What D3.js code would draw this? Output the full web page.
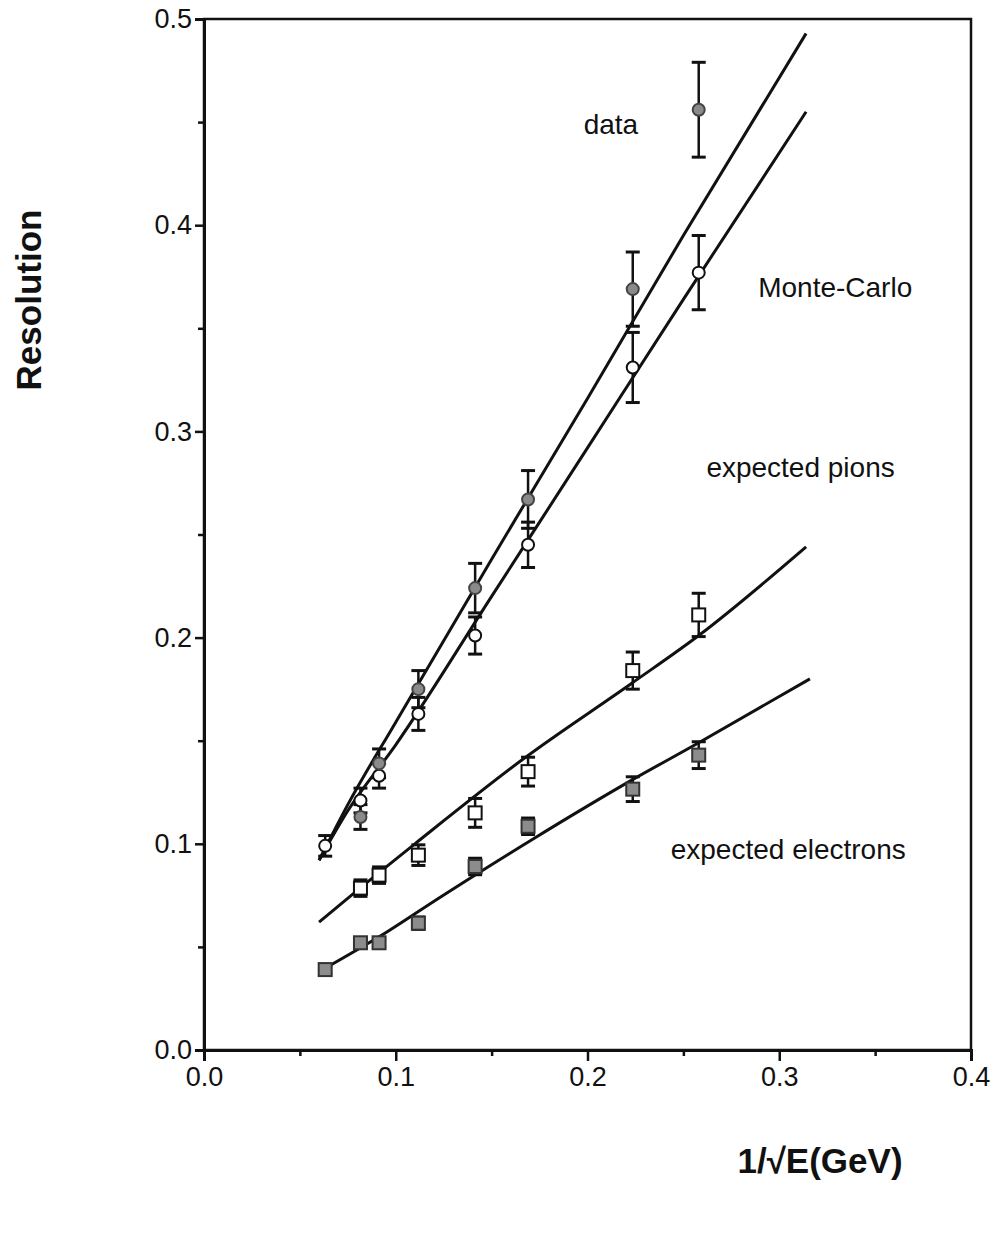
<!DOCTYPE html>
<html>
<head>
<meta charset="utf-8">
<script src="https://cdn.jsdelivr.net/npm/d3@7"></script>
<style>
  body { margin: 0; background: #fff; }
  text { font-family: "Liberation Sans", Arial, Helvetica, sans-serif; fill: #111; }
</style>
</head>
<body>
<svg id="chart" width="1005" height="1237"></svg>
<script>
// x = 1/sqrt(E) for E = 250, 150, 120, 80, 50, 35, 20, 15 GeV
var invSqrtE = [0.0632, 0.0816, 0.0913, 0.1118, 0.1414, 0.169, 0.2236, 0.258];

// measured data (grey circles), first energy has no point
var dataX = invSqrtE.slice(1);
var dataY = [0.113, 0.139, 0.175, 0.224, 0.267, 0.369, 0.456];
var dataErr = [0.006, 0.007, 0.009, 0.012, 0.014, 0.018, 0.023];

// Monte-Carlo (open circles)
var mcX = invSqrtE;
var mcY = [0.099, 0.121, 0.133, 0.163, 0.201, 0.245, 0.331, 0.377];
var mcErr = [0.005, 0.006, 0.006, 0.008, 0.009, 0.011, 0.017, 0.018];

// expected pions (open squares)
var pionX = invSqrtE.slice(1);
var pionY = [0.0785, 0.0848, 0.0945, 0.115, 0.135, 0.184, 0.211];
var pionErr = [0.004, 0.004, 0.005, 0.007, 0.007, 0.009, 0.0105];

// expected electrons (grey squares)
var elecX = invSqrtE;
var elecY = [0.039, 0.052, 0.052, 0.0615, 0.089, 0.1085, 0.1265, 0.143];
var elecErr = [0.002, 0.002, 0.002, 0.003, 0.004, 0.004, 0.006, 0.0065];

// fitted curves
var fitDataX = [0.060, 0.075, 0.100, 0.150, 0.200, 0.250, 0.314];
var fitDataY = [0.092, 0.119, 0.159, 0.238, 0.316, 0.395, 0.493];
var fitMcX = [0.060, 0.075, 0.100, 0.150, 0.200, 0.250, 0.314];
var fitMcY = [0.092, 0.116, 0.148, 0.220, 0.292, 0.364, 0.455];
var fitPionX = [0.060, 0.082, 0.110, 0.167, 0.2233, 0.258, 0.314];
var fitPionY = [0.062, 0.079, 0.100, 0.1415, 0.178, 0.201, 0.244];
var fitElecX = [0.062, 0.0915, 0.123, 0.171, 0.2233, 0.258, 0.316];
var fitElecY = [0.039, 0.055, 0.074, 0.102, 0.131, 0.149, 0.180];

var xTicks = [0.0, 0.1, 0.2, 0.3, 0.4];
var yTicks = [0.0, 0.1, 0.2, 0.3, 0.4, 0.5];

var labels = [
  { text: "data", x: 0.198, y: 0.448 },
  { text: "Monte-Carlo", x: 0.289, y: 0.369 },
  { text: "expected pions", x: 0.262, y: 0.2815 },
  { text: "expected electrons", x: 0.2434, y: 0.0964 }
];

var svg = d3.select("#chart");
var mLeft = 204, mRight = 971, mTop = 19, mBottom = 1050;

var x = d3.scaleLinear().domain([0, 0.4]).range([mLeft, mRight]);
var y = d3.scaleLinear().domain([0, 0.5]).range([mBottom, mTop]);

function zip(xs, ys, es) {
  return xs.map(function(v, i) { return { x: v, y: ys[i], e: es ? es[i] : 0 }; });
}

// frame
svg.append("rect")
  .attr("x", mLeft).attr("y", mTop)
  .attr("width", mRight - mLeft).attr("height", mBottom - mTop)
  .attr("fill", "none").attr("stroke", "#111").attr("stroke-width", 2.5);

// axes
var xAxis = d3.axisBottom(x).tickValues(xTicks).tickFormat(d3.format(".1f")).tickSize(11).tickPadding(6);
var xMinor = d3.axisBottom(x).tickValues([0.05, 0.15, 0.25, 0.35]).tickFormat("").tickSize(6);
var yAxis = d3.axisLeft(y).tickValues(yTicks).tickFormat(d3.format(".1f")).tickSize(9).tickPadding(3);
var yMinor = d3.axisLeft(y).tickValues([0.05, 0.15, 0.25, 0.35, 0.45]).tickFormat("").tickSize(6);

[[xAxis, "bottom"], [xMinor, "bottom"], [yAxis, "left"], [yMinor, "left"]].forEach(function(a) {
  var g = svg.append("g")
    .attr("transform", a[1] === "bottom" ? "translate(0," + mBottom + ")" : "translate(" + mLeft + ",0)")
    .call(a[0]);
  g.select(".domain").attr("stroke", "#111").attr("stroke-width", 3);
  g.selectAll(".tick line").attr("stroke", "#111").attr("stroke-width", 2.5);
  g.selectAll(".tick text").attr("font-size", 27).attr("fill", "#111")
    .style("font-family", "'Liberation Sans', Arial, sans-serif");
});

// axis titles
svg.append("text")
  .attr("x", 820).attr("y", 1173)
  .attr("text-anchor", "middle")
  .attr("font-size", 35).attr("font-weight", "bold")
  .text("1/\u221AE(GeV)");

svg.append("text")
  .attr("transform", "translate(41,300) rotate(-90)")
  .attr("text-anchor", "middle")
  .attr("font-size", 35).attr("font-weight", "bold")
  .text("Resolution");

// fitted lines
var line = d3.line()
  .x(function(d) { return x(d.x); })
  .y(function(d) { return y(d.y); })
  .curve(d3.curveMonotoneX);

[[fitDataX, fitDataY], [fitMcX, fitMcY], [fitPionX, fitPionY], [fitElecX, fitElecY]].forEach(function(f) {
  svg.append("path")
    .datum(zip(f[0], f[1]))
    .attr("d", line)
    .attr("fill", "none")
    .attr("stroke", "#111")
    .attr("stroke-width", 3);
});

// error bars
function errorBars(pts) {
  var g = svg.append("g").attr("stroke", "#111");
  g.selectAll(".bar").data(pts).enter().append("line")
    .attr("x1", function(d) { return x(d.x); })
    .attr("x2", function(d) { return x(d.x); })
    .attr("y1", function(d) { return y(d.y + d.e); })
    .attr("y2", function(d) { return y(d.y - d.e); })
    .attr("stroke-width", 2.5);
  [1, -1].forEach(function(s) {
    g.selectAll(".cap" + s).data(pts).enter().append("line")
      .attr("x1", function(d) { return x(d.x) - 7; })
      .attr("x2", function(d) { return x(d.x) + 7; })
      .attr("y1", function(d) { return y(d.y + s * d.e); })
      .attr("y2", function(d) { return y(d.y + s * d.e); })
      .attr("stroke-width", 3);
  });
}

var dataPts = zip(dataX, dataY, dataErr);
var mcPts = zip(mcX, mcY, mcErr);
var pionPts = zip(pionX, pionY, pionErr);
var elecPts = zip(elecX, elecY, elecErr);

[dataPts, mcPts, pionPts, elecPts].forEach(errorBars);

// markers
function circles(pts, fill, stroke) {
  svg.append("g").selectAll("circle").data(pts).enter().append("circle")
    .attr("cx", function(d) { return x(d.x); })
    .attr("cy", function(d) { return y(d.y); })
    .attr("r", 6)
    .attr("fill", fill)
    .attr("stroke", stroke)
    .attr("stroke-width", 2);
}

function squares(pts, fill, stroke) {
  svg.append("g").selectAll("rect").data(pts).enter().append("rect")
    .attr("x", function(d) { return x(d.x) - 6.5; })
    .attr("y", function(d) { return y(d.y) - 6.5; })
    .attr("width", 13).attr("height", 13)
    .attr("fill", fill)
    .attr("stroke", stroke)
    .attr("stroke-width", 2);
}

circles(mcPts, "#fff", "#111");
circles(dataPts, "#8a8a8a", "#444");
squares(pionPts, "#fff", "#111");
squares(elecPts, "#8c8c8c", "#333");

// series labels
svg.append("g").selectAll("text").data(labels).enter().append("text")
  .attr("x", function(d) { return x(d.x); })
  .attr("y", function(d) { return y(d.y); })
  .attr("text-anchor", "start")
  .attr("dominant-baseline", "middle")
  .attr("font-size", 28)
  .text(function(d) { return d.text; });
</script>
</body>
</html>
